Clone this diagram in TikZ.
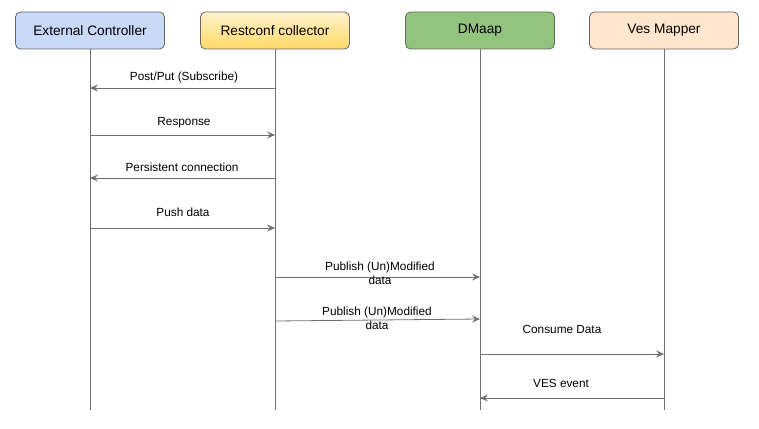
\documentclass[tikz,border=0pt]{standalone}
\usepackage{fontspec}
\setmainfont{Liberation Sans}
\usetikzlibrary{arrows.meta}

\definecolor{lineg}{HTML}{707070}
\definecolor{boxg}{HTML}{666666}
\definecolor{ecblue}{HTML}{C9DAF8}
\definecolor{rctop}{HTML}{FFF2CC}
\definecolor{rcbot}{HTML}{FFD966}
\definecolor{dmgreen}{HTML}{93C47D}
\definecolor{vmpeach}{HTML}{FFE6CC}

\tikzset{
  actor/.style={draw=boxg,rounded corners=5pt,minimum width=149pt,minimum height=37pt,
    font=\fontsize{13.7}{15}\selectfont,line width=0.8pt},
  life/.style={draw=lineg,line width=0.8pt},
  msg/.style={draw=lineg,line width=0.8pt,-{Stealth[length=8pt,width=7pt,inset=3pt]}},
  lbl/.style={font=\fontsize{11.8}{14}\selectfont,align=center,inner sep=0pt}
}

\begin{document}
\begin{tikzpicture}[x=1pt,y=-1pt]
\useasboundingbox (0,0) rectangle (759,428);
\path node (ec) at (90,30.5) [actor,fill=ecblue] {External Controller}
node (rc) at (275,30.5) [actor,top color=rctop,bottom color=rcbot] {Restconf collector}
node (dm) at (480,30.5) [actor,fill=dmgreen] {DMaap}
node (vm) at (664,30.5) [actor,fill=vmpeach] {Ves Mapper};
\path coordinate (ec-end) at (90,410)
coordinate (rc-end) at (275,410)
coordinate (dm-end) at (480,410)
coordinate (vm-end) at (664,410);
\draw[life] (ec) -- (ec-end);
\draw[life] (rc) -- (rc-end);
\draw[life] (dm) -- (dm-end);
\draw[life] (vm) -- (vm-end);

\draw[msg] (rc |- 0,88) -- (ec |- 0,88);
\draw[msg] (ec |- 0,135) -- (rc |- 0,135);
\draw[msg] (rc |- 0,178) -- (ec |- 0,178);
\draw[msg] (ec |- 0,228) -- (rc |- 0,228);
\draw[msg] (rc |- 0,277) -- (dm |- 0,277);
\draw[msg] (rc |- 0,321) -- (dm |- 0,319);
\draw[msg] (dm |- 0,354) -- (vm |- 0,354);
\draw[msg] (vm |- 0,398) -- (dm |- 0,398);

\path node (l1) at (184,77) [lbl] {Post/Put (Subscribe)}
node (l2) at (184,122.5) [lbl] {Response}
node (l3) at (182,167) [lbl] {Persistent connection}
node (l4) at (183,212) [lbl] {Push data}
node (l5) at (380,273) [lbl] {Publish (Un)Modified\\data}
node (l6) at (377,318) [lbl] {Publish (Un)Modified\\data}
node (l7) at (562,329) [lbl] {Consume Data}
node (l8) at (561,383) [lbl] {VES event};
\end{tikzpicture}
\end{document}
